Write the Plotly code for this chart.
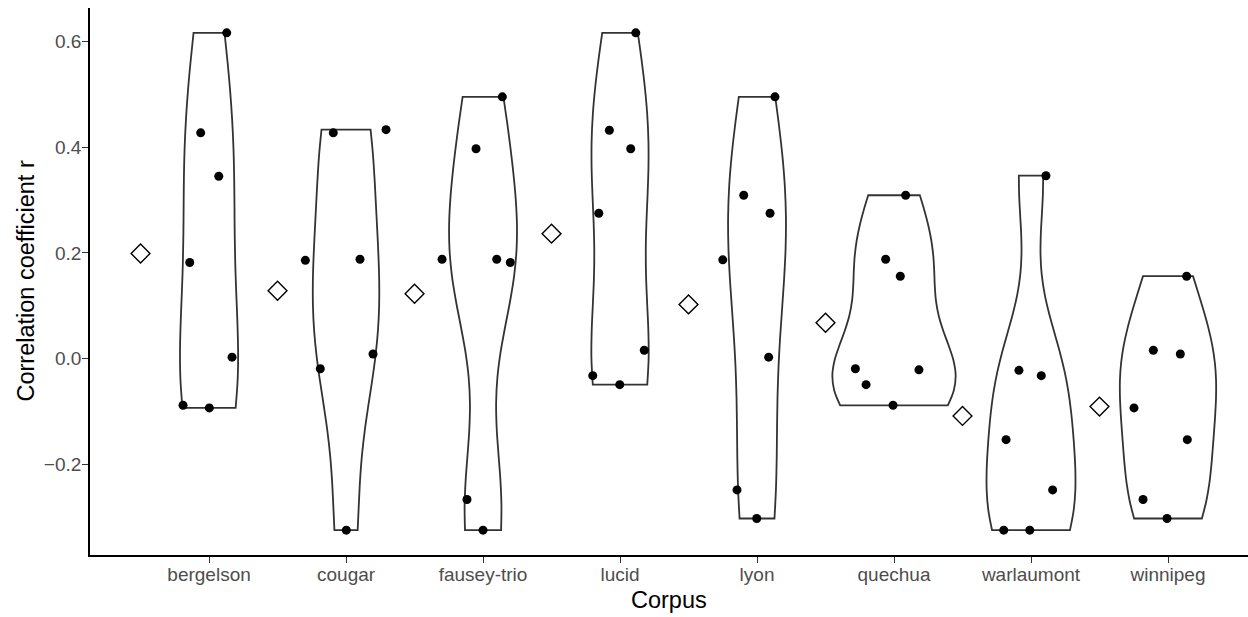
import numpy as np
import plotly.graph_objects as go

# ---- data ----
corpora = ["bergelson", "cougar", "fausey-trio", "lucid", "lyon", "quechua", "warlaumont", "winnipeg"]

r_bergelson = [0.616, 0.427, 0.345, 0.182, 0.003, -0.088, -0.093]
r_cougar = [0.427, 0.433, 0.186, 0.188, 0.009, -0.019, -0.324]
r_fausey = [0.495, 0.397, 0.188, 0.188, 0.182, -0.266, -0.324]
r_lucid = [0.616, 0.432, 0.397, 0.275, 0.016, -0.032, -0.049]
r_lyon = [0.495, 0.309, 0.275, 0.187, 0.003, -0.248, -0.302]
r_quechua = [0.309, 0.188, 0.156, -0.019, -0.021, -0.049, -0.088]
r_warlaumont = [0.346, -0.022, -0.032, -0.153, -0.248, -0.324, -0.324]
r_winnipeg = [0.156, 0.016, 0.009, -0.093, -0.153, -0.266, -0.302]

# horizontal jitter of each point (category units)
jit_bergelson = [0.129, -0.061, 0.071, -0.141, 0.168, -0.190, 0.002]
jit_cougar = [-0.093, 0.292, -0.297, 0.102, 0.197, -0.188, 0.002]
jit_fausey = [0.141, -0.051, -0.299, 0.100, 0.199, -0.117, 0.000]
jit_lucid = [0.115, -0.078, 0.078, -0.155, 0.177, -0.199, -0.002]
jit_lyon = [0.131, -0.097, 0.095, -0.250, 0.085, -0.146, -0.002]
jit_quechua = [0.085, -0.061, 0.046, -0.282, 0.182, -0.204, -0.007]
jit_warlaumont = [0.109, -0.088, 0.075, -0.182, 0.158, -0.199, -0.009]
jit_winnipeg = [0.136, -0.107, 0.090, -0.248, 0.141, -0.182, -0.007]

values = [r_bergelson, r_cougar, r_fausey, r_lucid, r_lyon, r_quechua, r_warlaumont, r_winnipeg]
jitters = [jit_bergelson, jit_cougar, jit_fausey, jit_lucid, jit_lyon, jit_quechua, jit_warlaumont, jit_winnipeg]

y_tickvals = [-0.2, 0.0, 0.2, 0.4, 0.6]
y_ticktext = ["\u22120.2", "0.0", "0.2", "0.4", "0.6"]


def bw_nrd0(v):
    v = np.asarray(v, dtype=float)
    sd = v.std(ddof=1)
    q75, q25 = np.percentile(v, [75, 25])
    lo = min(sd, (q75 - q25) / 1.34)
    if lo == 0:
        lo = sd or abs(v[0]) or 1.0
    return 0.9 * lo * len(v) ** (-0.2)


FONT = "Liberation Sans"
fig = go.Figure()

# violins: no explicit width so that the shared scalegroup gives equal-area scaling
for i, (name, vals) in enumerate(zip(corpora, values)):
    pos = i + 1
    fig.add_trace(go.Violin(
        x=[pos] * len(vals), y=vals, name=name,
        scalegroup="all", scalemode="width", spanmode="hard",
        bandwidth=bw_nrd0(vals), points=False,
        line=dict(color="#333333", width=1.8), fillcolor="white",
        box_visible=False, meanline_visible=False, showlegend=False,
        hoveron="violins",
    ))

for i, (vals, jit) in enumerate(zip(values, jitters)):
    pos = i + 1
    fig.add_trace(go.Scatter(
        x=[pos + j for j in jit], y=vals, mode="markers",
        marker=dict(color="black", size=9), showlegend=False,
    ))

means = [float(np.mean(v)) for v in values]
fig.add_trace(go.Scatter(
    x=[i + 1 - 0.5 for i in range(len(corpora))], y=means, mode="markers",
    marker=dict(symbol="diamond", size=14.5, color="white",
                line=dict(color="black", width=1.4)),
    showlegend=False,
))

all_vals = np.concatenate([np.asarray(v) for v in values])
vmin, vmax = all_vals.min(), all_vals.max()
pad = 0.05 * (vmax - vmin)

fig.update_layout(
    width=1248, height=617,
    margin=dict(l=90, r=0, t=8, b=62),
    paper_bgcolor="white", plot_bgcolor="white",
    violinmode="overlay", violingap=0.1, violingroupgap=0,
    font=dict(family=FONT),
    xaxis=dict(
        type="linear", range=[0.131, 8.584],
        tickvals=list(range(1, len(corpora) + 1)), ticktext=corpora,
        ticks="outside", ticklen=6, tickwidth=1.4, tickcolor="#333333",
        showline=True, linecolor="black", linewidth=1.8,
        showgrid=False, zeroline=False, ticklabelstandoff=-5,
        tickfont=dict(family=FONT, size=19, color="#4D4D4D"),
    ),
    yaxis=dict(
        range=[vmin - pad, vmax + pad],
        tickvals=y_tickvals, ticktext=y_ticktext,
        ticks="outside", ticklen=6, tickwidth=1.4, tickcolor="#333333",
        showline=True, linecolor="black", linewidth=1.8,
        showgrid=False, zeroline=False, ticklabelstandoff=-3,
        tickfont=dict(family=FONT, size=19, color="#4D4D4D"),
    ),
    annotations=[
        dict(text="Corpus", xref="paper", yref="paper", x=0.5, y=-(600 - 555) / 547,
             xanchor="center", yanchor="middle", showarrow=False,
             font=dict(family=FONT, size=23.5, color="black")),
        dict(text="Correlation coefficient r", xref="paper", yref="paper",
             x=(25 - 90) / 1158, y=0.5, xanchor="center", yanchor="middle",
             textangle=-90, showarrow=False,
             font=dict(family=FONT, size=23.5, color="black")),
    ],
)

fig.write_html(
    "out.html",
    config={"displayModeBar": False},
    post_script="document.body.style.margin='0';document.body.style.overflow='hidden';",
)
